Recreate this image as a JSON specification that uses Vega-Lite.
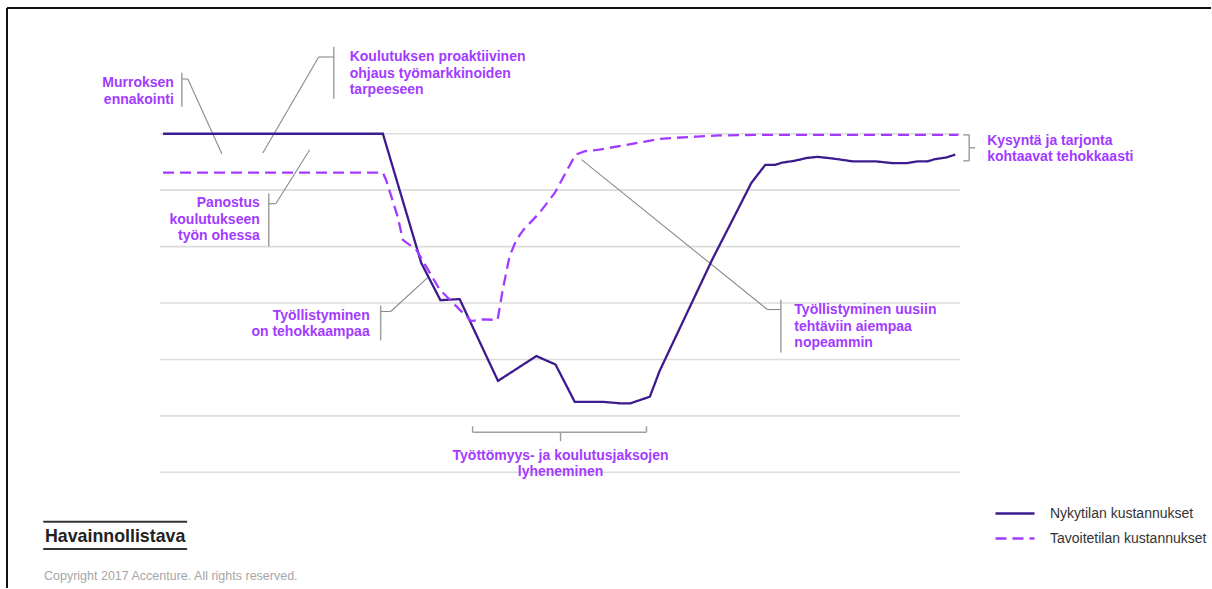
{
  "$schema": "https://vega.github.io/schema/vega-lite/v6.json",
  "width": 1212,
  "height": 589,
  "padding": 0,
  "autosize": {"type": "fit", "contains": "padding"},
  "background": "#ffffff",
  "config": {"view": {"stroke": null}},
  "datasets": {
    "lines": [
      {"t": 0.4, "cost": 6.0, "series": "Nykytilan kustannukset"},
      {"t": 27.9, "cost": 6.0, "series": "Nykytilan kustannukset"},
      {"t": 32.7, "cost": 3.71, "series": "Nykytilan kustannukset"},
      {"t": 35.1, "cost": 3.05, "series": "Nykytilan kustannukset"},
      {"t": 37.5, "cost": 3.07, "series": "Nykytilan kustannukset"},
      {"t": 42.3, "cost": 1.62, "series": "Nykytilan kustannukset"},
      {"t": 47.1, "cost": 2.06, "series": "Nykytilan kustannukset"},
      {"t": 49.5, "cost": 1.91, "series": "Nykytilan kustannukset"},
      {"t": 51.9, "cost": 1.25, "series": "Nykytilan kustannukset"},
      {"t": 55.3, "cost": 1.25, "series": "Nykytilan kustannukset"},
      {"t": 57.8, "cost": 1.22, "series": "Nykytilan kustannukset"},
      {"t": 58.8, "cost": 1.22, "series": "Nykytilan kustannukset"},
      {"t": 61.3, "cost": 1.34, "series": "Nykytilan kustannukset"},
      {"t": 62.5, "cost": 1.79, "series": "Nykytilan kustannukset"},
      {"t": 69.1, "cost": 3.77, "series": "Nykytilan kustannukset"},
      {"t": 72.1, "cost": 4.6, "series": "Nykytilan kustannukset"},
      {"t": 74.0, "cost": 5.13, "series": "Nykytilan kustannukset"},
      {"t": 75.75, "cost": 5.45, "series": "Nykytilan kustannukset"},
      {"t": 77.0, "cost": 5.45, "series": "Nykytilan kustannukset"},
      {"t": 77.9, "cost": 5.49, "series": "Nykytilan kustannukset"},
      {"t": 79.4, "cost": 5.52, "series": "Nykytilan kustannukset"},
      {"t": 80.9, "cost": 5.57, "series": "Nykytilan kustannukset"},
      {"t": 82.3, "cost": 5.59, "series": "Nykytilan kustannukset"},
      {"t": 84.25, "cost": 5.56, "series": "Nykytilan kustannukset"},
      {"t": 86.7, "cost": 5.51, "series": "Nykytilan kustannukset"},
      {"t": 89.6, "cost": 5.51, "series": "Nykytilan kustannukset"},
      {"t": 91.6, "cost": 5.48, "series": "Nykytilan kustannukset"},
      {"t": 93.5, "cost": 5.48, "series": "Nykytilan kustannukset"},
      {"t": 94.75, "cost": 5.51, "series": "Nykytilan kustannukset"},
      {"t": 96.0, "cost": 5.51, "series": "Nykytilan kustannukset"},
      {"t": 97.0, "cost": 5.55, "series": "Nykytilan kustannukset"},
      {"t": 98.4, "cost": 5.58, "series": "Nykytilan kustannukset"},
      {"t": 99.5, "cost": 5.63, "series": "Nykytilan kustannukset"},
      {"t": 0.4, "cost": 5.31, "series": "Tavoitetilan kustannukset"},
      {"t": 27.9, "cost": 5.31, "series": "Tavoitetilan kustannukset"},
      {"t": 28.3, "cost": 5.18, "series": "Tavoitetilan kustannukset"},
      {"t": 29.75, "cost": 4.53, "series": "Tavoitetilan kustannukset"},
      {"t": 30.4, "cost": 4.12, "series": "Tavoitetilan kustannukset"},
      {"t": 32.1, "cost": 3.94, "series": "Tavoitetilan kustannukset"},
      {"t": 35.0, "cost": 3.24, "series": "Tavoitetilan kustannukset"},
      {"t": 37.1, "cost": 2.94, "series": "Tavoitetilan kustannukset"},
      {"t": 38.96, "cost": 2.68, "series": "Tavoitetilan kustannukset"},
      {"t": 40.4, "cost": 2.71, "series": "Tavoitetilan kustannukset"},
      {"t": 42.25, "cost": 2.7, "series": "Tavoitetilan kustannukset"},
      {"t": 42.9, "cost": 3.24, "series": "Tavoitetilan kustannukset"},
      {"t": 43.75, "cost": 3.83, "series": "Tavoitetilan kustannukset"},
      {"t": 44.6, "cost": 4.12, "series": "Tavoitetilan kustannukset"},
      {"t": 45.5, "cost": 4.3, "series": "Tavoitetilan kustannukset"},
      {"t": 47.5, "cost": 4.6, "series": "Tavoitetilan kustannukset"},
      {"t": 49.4, "cost": 4.95, "series": "Tavoitetilan kustannukset"},
      {"t": 52.0, "cost": 5.63, "series": "Tavoitetilan kustannukset"},
      {"t": 53.2, "cost": 5.69, "series": "Tavoitetilan kustannukset"},
      {"t": 55.0, "cost": 5.72, "series": "Tavoitetilan kustannukset"},
      {"t": 59.9, "cost": 5.84, "series": "Tavoitetilan kustannukset"},
      {"t": 62.5, "cost": 5.91, "series": "Tavoitetilan kustannukset"},
      {"t": 67.2, "cost": 5.95, "series": "Tavoitetilan kustannukset"},
      {"t": 70.0, "cost": 5.97, "series": "Tavoitetilan kustannukset"},
      {"t": 74.5, "cost": 5.98, "series": "Tavoitetilan kustannukset"},
      {"t": 99.9, "cost": 5.98, "series": "Tavoitetilan kustannukset"}
    ],
    "grid": [{"level": 0}, {"level": 1}, {"level": 2}, {"level": 3}, {"level": 4}, {"level": 5}, {"level": 6}],
    "brackets": [
      {"x": 2.75, "y": 7.08, "x2": 2.75, "y2": 6.48},
      {"x": 21.75, "y": 7.54, "x2": 21.75, "y2": 6.62},
      {"x": 13.625, "y": 4.94, "x2": 13.625, "y2": 4.0},
      {"x": 27.625, "y": 2.956, "x2": 27.625, "y2": 2.337},
      {"x": 77.69, "y": 3.06, "x2": 77.69, "y2": 2.125},
      {"x": 101.25, "y": 5.98, "x2": 101.25, "y2": 5.52},
      {"x": 100.5, "y": 5.98, "x2": 101.25, "y2": 5.98},
      {"x": 100.5, "y": 5.52, "x2": 101.25, "y2": 5.52},
      {"x": 101.25, "y": 5.751, "x2": 102.0, "y2": 5.751},
      {"x": 39.125, "y": 0.709, "x2": 60.875, "y2": 0.709},
      {"x": 39.125, "y": 0.816, "x2": 39.125, "y2": 0.709},
      {"x": 60.875, "y": 0.816, "x2": 60.875, "y2": 0.709},
      {"x": 50.125, "y": 0.709, "x2": 50.125, "y2": 0.55}
    ],
    "leaders": [
      {"x": 2.75, "y": 6.97, "x2": 3.5, "y2": 6.97},
      {"x": 3.5, "y": 6.97, "x2": 7.75, "y2": 5.645},
      {"x": 19.875, "y": 7.36, "x2": 21.75, "y2": 7.36},
      {"x": 19.875, "y": 7.36, "x2": 12.875, "y2": 5.66},
      {"x": 13.625, "y": 4.76, "x2": 14.5, "y2": 4.76},
      {"x": 14.5, "y": 4.76, "x2": 18.75, "y2": 5.715},
      {"x": 27.625, "y": 2.85, "x2": 28.875, "y2": 2.85},
      {"x": 28.875, "y": 2.85, "x2": 33.5, "y2": 3.45},
      {"x": 76.0, "y": 2.885, "x2": 77.69, "y2": 2.885},
      {"x": 76.0, "y": 2.885, "x2": 52.75, "y2": 5.54}
    ],
    "notesRight": [
      {"x": 1.75, "y": 7.016, "label": "Murroksen\nennakointi"},
      {"x": 12.5, "y": 4.893, "label": "Panostus\nkoulutukseen\ntyön ohessa"},
      {"x": 26.25, "y": 2.903, "label": "Työllistyminen\non tehokkaampaa"}
    ],
    "notesLeft": [
      {"x": 23.75, "y": 7.476, "label": "Koulutuksen proaktiivinen\nohjaus työmarkkinoiden\ntarpeeseen"},
      {"x": 79.375, "y": 3.0, "label": "Työllistyminen uusiin\ntehtäviin aiempaa\nnopeammin"},
      {"x": 103.5, "y": 5.999, "label": "Kysyntä ja tarjonta\nkohtaavat tehokkaasti"}
    ],
    "notesCenter": [
      {"x": 50.125, "y": 0.409, "label": "Työttömyys- ja koulutusjaksojen\nlyheneminen"}
    ],
    "footerRules": [
      {"x": -14.59, "y": -0.877, "x2": 3.41, "y2": -0.877},
      {"x": -14.59, "y": -1.36, "x2": 3.41, "y2": -1.36}
    ],
    "stamp": [{"x": -14.375, "y": -0.985, "label": "Havainnollistava"}],
    "copyright": [{"x": -14.5, "y": -1.735, "label": "Copyright 2017 Accenture. All rights reserved."}],
    "frame": [
      {"x": -19.125, "y": 8.228, "x2": 131.5, "y2": 8.228},
      {"x": -19.125, "y": 8.228, "x2": -19.125, "y2": -2.05}
    ]
  },
  "layer": [
    {
      "data": {"name": "frame"},
      "mark": {"type": "rule", "color": "#111111", "strokeWidth": 2},
      "encoding": {
        "x": {"field": "x", "type": "quantitative", "scale": {"domain": [-20, 131.5], "nice": false, "zero": false}, "axis": null},
        "y": {"field": "y", "type": "quantitative", "scale": {"domain": [-2.05, 8.37], "nice": false, "zero": false}, "axis": null},
        "x2": {"field": "x2"},
        "y2": {"field": "y2"}
      }
    },
    {
      "data": {"name": "grid"},
      "mark": {"type": "rule", "color": "#dcdcdc", "strokeWidth": 1.6},
      "encoding": {
        "x": {"datum": 0, "type": "quantitative", "scale": {"domain": [-20, 131.5], "nice": false, "zero": false}, "axis": null},
        "x2": {"datum": 100.125},
        "y": {"field": "level", "type": "quantitative", "scale": {"domain": [-2.05, 8.37], "nice": false, "zero": false}, "axis": null}
      }
    },
    {
      "data": {"name": "brackets"},
      "mark": {"type": "rule", "color": "#a0a0a0", "strokeWidth": 1.5},
      "encoding": {
        "x": {"field": "x", "type": "quantitative", "scale": {"domain": [-20, 131.5], "nice": false, "zero": false}, "axis": null},
        "y": {"field": "y", "type": "quantitative", "scale": {"domain": [-2.05, 8.37], "nice": false, "zero": false}, "axis": null},
        "x2": {"field": "x2"},
        "y2": {"field": "y2"}
      }
    },
    {
      "data": {"name": "leaders"},
      "mark": {"type": "rule", "color": "#8a8a8a", "strokeWidth": 1.1},
      "encoding": {
        "x": {"field": "x", "type": "quantitative", "scale": {"domain": [-20, 131.5], "nice": false, "zero": false}, "axis": null},
        "y": {"field": "y", "type": "quantitative", "scale": {"domain": [-2.05, 8.37], "nice": false, "zero": false}, "axis": null},
        "x2": {"field": "x2"},
        "y2": {"field": "y2"}
      }
    },
    {
      "data": {"name": "footerRules"},
      "mark": {"type": "rule", "color": "#333333", "strokeWidth": 2},
      "encoding": {
        "x": {"field": "x", "type": "quantitative", "scale": {"domain": [-20, 131.5], "nice": false, "zero": false}, "axis": null},
        "y": {"field": "y", "type": "quantitative", "scale": {"domain": [-2.05, 8.37], "nice": false, "zero": false}, "axis": null},
        "x2": {"field": "x2"},
        "y2": {"field": "y2"}
      }
    },
    {
      "data": {"name": "lines"},
      "mark": {"type": "line", "strokeWidth": 2.3},
      "encoding": {
        "x": {"field": "t", "type": "quantitative", "scale": {"domain": [-20, 131.5], "nice": false, "zero": false}, "axis": null},
        "y": {"field": "cost", "type": "quantitative", "scale": {"domain": [-2.05, 8.37], "nice": false, "zero": false}, "axis": null},
        "color": {
          "field": "series",
          "type": "nominal",
          "scale": {"domain": ["Nykytilan kustannukset", "Tavoitetilan kustannukset"], "range": ["#3D1A8E", "#A23BFF"]},
          "legend": {
            "orient": "none",
            "legendX": 994,
            "legendY": 502,
            "title": null,
            "padding": 0,
            "symbolType": "stroke",
            "symbolSize": 1521,
            "symbolStrokeWidth": 2.3,
            "clipHeight": 23,
            "rowPadding": 2,
            "labelOffset": 14,
            "labelFont": "Liberation Sans",
            "labelFontSize": 14,
            "labelColor": "#333333",
            "labelLimit": 300,
            "encode": {"symbols": {"update": {"strokeDash": {"signal": "datum.value == 'Tavoitetilan kustannukset' ? [6.5, 6] : [1, 0]"}}}}
          }
        },
        "strokeDash": {
          "field": "series",
          "type": "nominal",
          "scale": {"domain": ["Nykytilan kustannukset", "Tavoitetilan kustannukset"], "range": [[1, 0], [11, 6]]},
          "legend": {
            "orient": "none",
            "legendX": 994,
            "legendY": 502,
            "title": null,
            "padding": 0,
            "symbolType": "stroke",
            "symbolSize": 1521,
            "symbolStrokeWidth": 2.3,
            "clipHeight": 23,
            "rowPadding": 2,
            "labelOffset": 14,
            "labelFont": "Liberation Sans",
            "labelFontSize": 14,
            "labelColor": "#333333",
            "labelLimit": 300,
            "encode": {"symbols": {"update": {"strokeDash": {"signal": "datum.value == 'Tavoitetilan kustannukset' ? [6.5, 6] : [1, 0]"}}}}
          }
        }
      }
    },
    {
      "data": {"name": "notesRight"},
      "mark": {"type": "text", "align": "right", "baseline": "top", "lineBreak": "\n", "lineHeight": 16.5, "font": "Liberation Sans", "fontSize": 14, "fontWeight": "bold", "color": "#A23BFF"},
      "encoding": {
        "x": {"field": "x", "type": "quantitative", "scale": {"domain": [-20, 131.5], "nice": false, "zero": false}, "axis": null},
        "y": {"field": "y", "type": "quantitative", "scale": {"domain": [-2.05, 8.37], "nice": false, "zero": false}, "axis": null},
        "text": {"field": "label"}
      }
    },
    {
      "data": {"name": "notesLeft"},
      "mark": {"type": "text", "align": "left", "baseline": "top", "lineBreak": "\n", "lineHeight": 16.5, "font": "Liberation Sans", "fontSize": 14, "fontWeight": "bold", "color": "#A23BFF"},
      "encoding": {
        "x": {"field": "x", "type": "quantitative", "scale": {"domain": [-20, 131.5], "nice": false, "zero": false}, "axis": null},
        "y": {"field": "y", "type": "quantitative", "scale": {"domain": [-2.05, 8.37], "nice": false, "zero": false}, "axis": null},
        "text": {"field": "label"}
      }
    },
    {
      "data": {"name": "notesCenter"},
      "mark": {"type": "text", "align": "center", "baseline": "top", "lineBreak": "\n", "lineHeight": 16, "font": "Liberation Sans", "fontSize": 14, "fontWeight": "bold", "color": "#A23BFF"},
      "encoding": {
        "x": {"field": "x", "type": "quantitative", "scale": {"domain": [-20, 131.5], "nice": false, "zero": false}, "axis": null},
        "y": {"field": "y", "type": "quantitative", "scale": {"domain": [-2.05, 8.37], "nice": false, "zero": false}, "axis": null},
        "text": {"field": "label"}
      }
    },
    {
      "data": {"name": "stamp"},
      "mark": {"type": "text", "align": "left", "baseline": "top", "font": "Liberation Sans", "fontSize": 17.8, "fontWeight": "bold", "color": "#222222"},
      "encoding": {
        "x": {"field": "x", "type": "quantitative", "scale": {"domain": [-20, 131.5], "nice": false, "zero": false}, "axis": null},
        "y": {"field": "y", "type": "quantitative", "scale": {"domain": [-2.05, 8.37], "nice": false, "zero": false}, "axis": null},
        "text": {"field": "label"}
      }
    },
    {
      "data": {"name": "copyright"},
      "mark": {"type": "text", "align": "left", "baseline": "top", "font": "Liberation Sans", "fontSize": 12.5, "color": "#a6a6a6"},
      "encoding": {
        "x": {"field": "x", "type": "quantitative", "scale": {"domain": [-20, 131.5], "nice": false, "zero": false}, "axis": null},
        "y": {"field": "y", "type": "quantitative", "scale": {"domain": [-2.05, 8.37], "nice": false, "zero": false}, "axis": null},
        "text": {"field": "label"}
      }
    }
  ]
}
